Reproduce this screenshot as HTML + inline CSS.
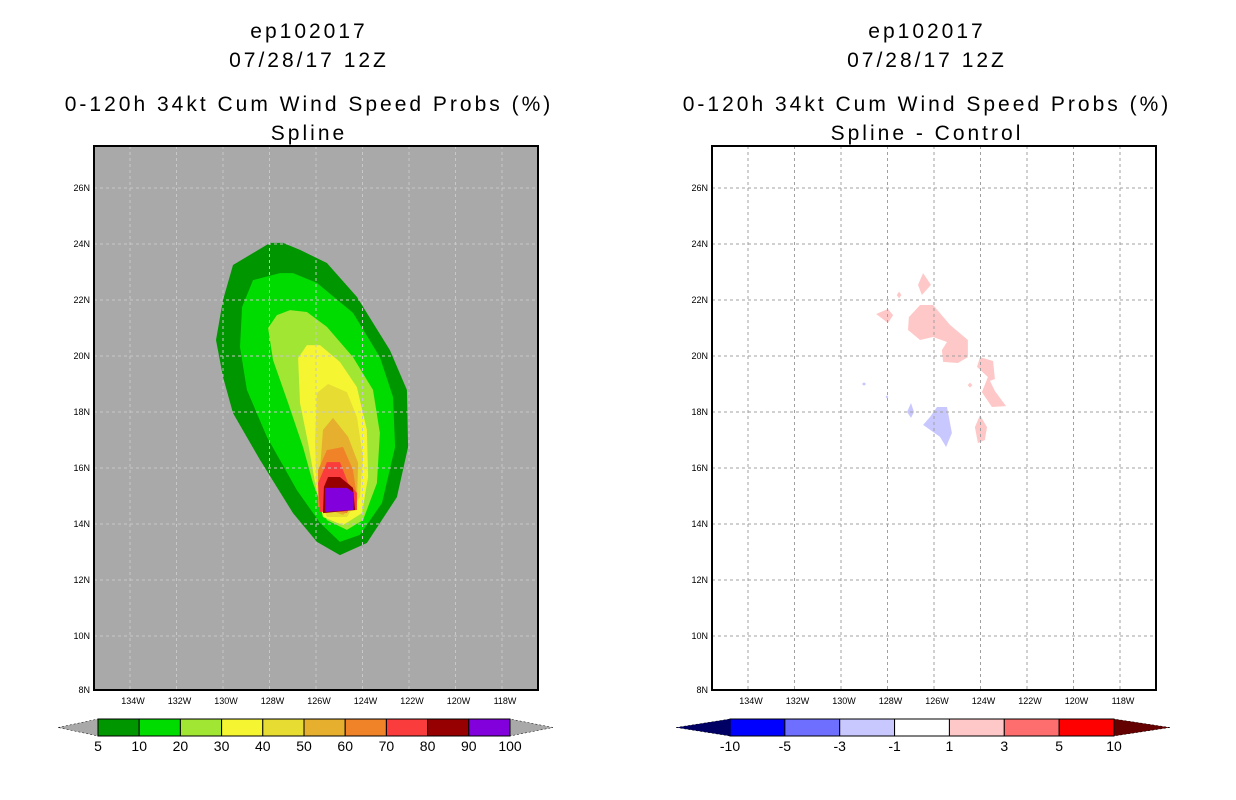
<!DOCTYPE html>
<html><head><meta charset="utf-8"><style>
html,body{margin:0;padding:0;background:#fff;}
svg{display:block;font-family:"Liberation Sans",sans-serif;}
</style></head>
<body>
<svg id="s" width="1236" height="800" viewBox="0 0 1236 800"></svg>
<script>
// ----- data -----
const latTicks=[26,24,22,20,18,16,14,12,10,8];
const lonTicks=[134,132,130,128,126,124,122,120,118];
const probLevels=[5,10,20,30,40,50,60,70,80,90,100];
const probColors=["#009600","#00dc00","#a0e632","#f5f532","#e6dc32","#e6af2d","#f08228","#fa3c3c","#960000","#8200dc"];
const diffLevels=["-10","-5","-3","-1","1","3","5","10"];
const diffColors=["#000064","#0000ff","#6e6eff","#c8c8ff","#ffffff","#ffc8c8","#ff6e6e","#ff0000","#640000"];
// contour regions, [lonW, latN]
const c5=[[127.42,24.04],[127.98,24.04],[129.57,23.25],[130.0,22.0],[130.3,20.57],[130.0,19.25],[129.57,17.96],[128.41,16.29],[126.99,14.39],[125.96,13.36],[124.97,12.89],[123.81,13.32],[122.52,14.96],[122.04,16.75],[122.09,18.79],[122.82,20.21],[124.24,22.11],[125.53,23.32],[126.69,23.79]];
const c10=[[127.55,22.96],[128.71,22.71],[129.18,21.75],[129.27,20.32],[128.97,18.79],[128.11,17.11],[126.82,15.21],[125.83,14.04],[124.97,13.36],[124.11,13.61],[123.16,14.75],[122.6,16.75],[122.69,18.54],[123.25,19.96],[124.41,21.54],[125.96,22.61],[126.99,22.96]];
const c20=[[127.12,21.64],[127.68,21.46],[128.06,21.0],[127.85,19.86],[127.2,18.32],[126.56,16.75],[126.13,15.46],[125.53,14.14],[124.67,13.79],[123.98,14.14],[123.38,15.46],[123.25,17.25],[123.55,18.79],[124.41,19.96],[125.53,21.04],[126.39,21.57]];
const c30=[[126.39,20.39],[126.77,19.93],[126.69,18.32],[126.34,16.89],[126.04,15.46],[125.7,14.25],[124.84,13.96],[124.02,14.39],[123.76,15.68],[123.81,17.36],[124.24,18.89],[124.97,19.79],[125.83,20.39]];
const c40=[[125.96,18.68],[125.48,19.0],[124.67,18.71],[124.24,17.82],[123.98,16.39],[124.11,14.96],[124.67,14.25],[125.53,14.25],[125.96,15.21],[126.04,16.89]];
const c50=[[125.27,17.79],[125.7,17.36],[125.83,15.93],[125.74,14.61],[124.84,14.32],[124.24,14.75],[124.19,16.18],[124.62,17.11]];
const c60=[[125.53,16.64],[125.91,15.93],[125.91,14.61],[124.67,14.39],[124.24,14.96],[124.41,15.93],[124.84,16.75]];
const c70=[[125.53,16.21],[124.97,16.21],[124.62,15.46],[124.24,15.11],[124.24,14.5],[125.83,14.43],[125.91,15.46]];
const c80=[[125.48,15.68],[124.97,15.68],[124.41,15.29],[124.32,14.5],[125.7,14.39],[125.66,15.32]];
const c90=[[125.61,15.29],[124.67,15.29],[124.37,15.11],[124.41,14.5],[125.61,14.43]];
const probRegions=[c5,c10,c20,c30,c40,c50,c60,c70,c80,c90];
const pinkRegions=[
[[126.6,21.82],[126.04,21.82],[125.31,21.11],[124.54,20.57],[124.54,19.96],[124.97,19.75],[125.61,19.79],[125.66,20.21],[125.44,20.5],[126.04,20.68],[126.6,20.57],[127.12,20.93],[127.08,21.39]],
[[126.47,22.96],[126.13,22.54],[126.52,22.18],[126.69,22.54]],
[[128.49,21.5],[127.98,21.68],[127.76,21.46],[127.98,21.18]],
[[127.6,22.18],[127.5,22.3],[127.4,22.18],[127.5,22.06]],
[[124.02,19.96],[123.46,19.82],[123.38,19.18],[123.59,19.11],[123.38,18.75],[122.9,18.21],[123.51,18.18],[123.94,18.71],[123.68,19.25],[124.15,19.61]],
[[124.02,17.89],[123.72,17.46],[123.81,17.0],[124.11,16.89],[124.24,17.46]],
[[124.55,18.96],[124.45,19.05],[124.35,18.96],[124.45,18.87]]];
const blueRegions=[
[[125.87,18.18],[125.44,18.18],[125.23,17.25],[125.48,16.75],[125.74,17.11],[126.47,17.54],[126.17,17.82]],
[[126.99,18.32],[126.86,18.0],[126.99,17.79],[127.16,18.0]],
[[129.1,19.0],[129.01,19.06],[128.92,19.0],[129.01,18.94]],
[[128.08,18.54],[128.02,18.6],[127.96,18.54],[128.02,18.48]]];

// ----- drawing -----
const NS="http://www.w3.org/2000/svg";
const svg=document.getElementById('s');
function el(tag,attrs,parent,text){const e=document.createElementNS(NS,tag);for(const k in attrs)e.setAttribute(k,attrs[k]);if(text!==undefined)e.textContent=text;(parent||svg).appendChild(e);return e;}
const PW=444,PH=544,PT=146;
function X(off,lon){return off+222+(126-lon)*23.25;}
function Y(lat){return 692-(lat-8)*28;}
function pts(off,r){return r.map(p=>X(off,p[0]).toFixed(1)+","+Y(p[1]).toFixed(1)).join(" ");}

function panel(off,bg,center,line4,name){
  const g=el('g',{});
  
  
  const titles=["ep102017","07/28/17 12Z","0-120h 34kt Cum Wind Speed Probs (%)",line4];
  const ys=[38,67,111,140];
  titles.forEach((t,i)=>{const tx=el('text',{x:center,y:ys[i],'text-anchor':'middle','font-size':21,'letter-spacing':3,fill:'#000'},g,t);
    
    });
  const bgR=el('rect',{x:off,y:PT,width:PW,height:PH,fill:bg},g);
  
  
  return g;
}
function grid(off,g,color){
  lonTicks.forEach(l=>{const x=X(off,l);el('line',{x1:x,y1:PT,x2:x,y2:PT+PH,stroke:color,'stroke-width':1,'stroke-dasharray':'3,3'},g);});
  latTicks.forEach(l=>{if(l===8)return;const y=Y(l);el('line',{x1:off,y1:y,x2:off+PW,y2:y,stroke:color,'stroke-width':1,'stroke-dasharray':'3,3'},g);});
}
function axes(off,g){
  const fr=el('rect',{x:off,y:PT,width:PW,height:PH,fill:'none',stroke:'#000','stroke-width':2},g);
  
  
  latTicks.forEach(l=>{const y=Y(l);
    const t=el('text',{x:off-4,y:Math.min(y,690)+3,'text-anchor':'end','font-size':9,fill:'#000'},g,l+"N");
    
    });
  lonTicks.forEach(l=>{const x=X(off,l);
    const t=el('text',{x:x+3,y:704,'text-anchor':'middle','font-size':9,fill:'#000'},g,l+"W");
    
    });
}
function colorbar(g,x0,x1,tipL,tipR,colors,labels,name){
  const n=colors.length-2, w=(x1-x0)/n, y0=719,y1=736, ym=727.5;
  const cb=el('g',{},g);
  
  
  el('polygon',{points:`${tipL},${ym} ${x0},${y0} ${x0},${y1}`,fill:colors[0],stroke:'#000','stroke-width':0.5,'stroke-dasharray':'2,2'},cb);
  el('polygon',{points:`${tipR},${ym} ${x1},${y0} ${x1},${y1}`,fill:colors[colors.length-1],stroke:'#000','stroke-width':0.5,'stroke-dasharray':'2,2'},cb);
  for(let i=0;i<n;i++){const r=el('rect',{x:x0+i*w,y:y0,width:w,height:y1-y0,fill:colors[i+1],stroke:'#000','stroke-width':1},cb);
    
    }
  labels.forEach((lb,i)=>{const t=el('text',{x:x0+i*w,y:751,'text-anchor':'middle','font-size':14,fill:'#000'},cb,lb);
    
    });
}

// left panel
const L=94;
const gL=panel(L,'#a9a9a9',309,"Spline","left-probability-panel");
probRegions.forEach((r,i)=>{const p=el('polygon',{points:pts(L,r),fill:probColors[i]},gL);
  
  });
grid(L,gL,'#c8c8c8');
axes(L,gL);
colorbar(gL,98,510,58,553,["#a9a9a9"].concat(probColors,["#a9a9a9"]),probLevels.map(String),"left-colorbar");

// right panel
const R=712;
const gR=panel(R,'#ffffff',927,"Spline - Control","right-difference-panel");
pinkRegions.forEach(r=>{const p=el('polygon',{points:pts(R,r),fill:'#ffc8c8'},gR);
  
  });
blueRegions.forEach(r=>{const p=el('polygon',{points:pts(R,r),fill:'#c8c8ff'},gR);
  
  });
grid(R,gR,'#a0a0a0');
axes(R,gR);
colorbar(gR,730,1114,676,1170,diffColors,diffLevels,"right-colorbar");
</script>
</body></html>
